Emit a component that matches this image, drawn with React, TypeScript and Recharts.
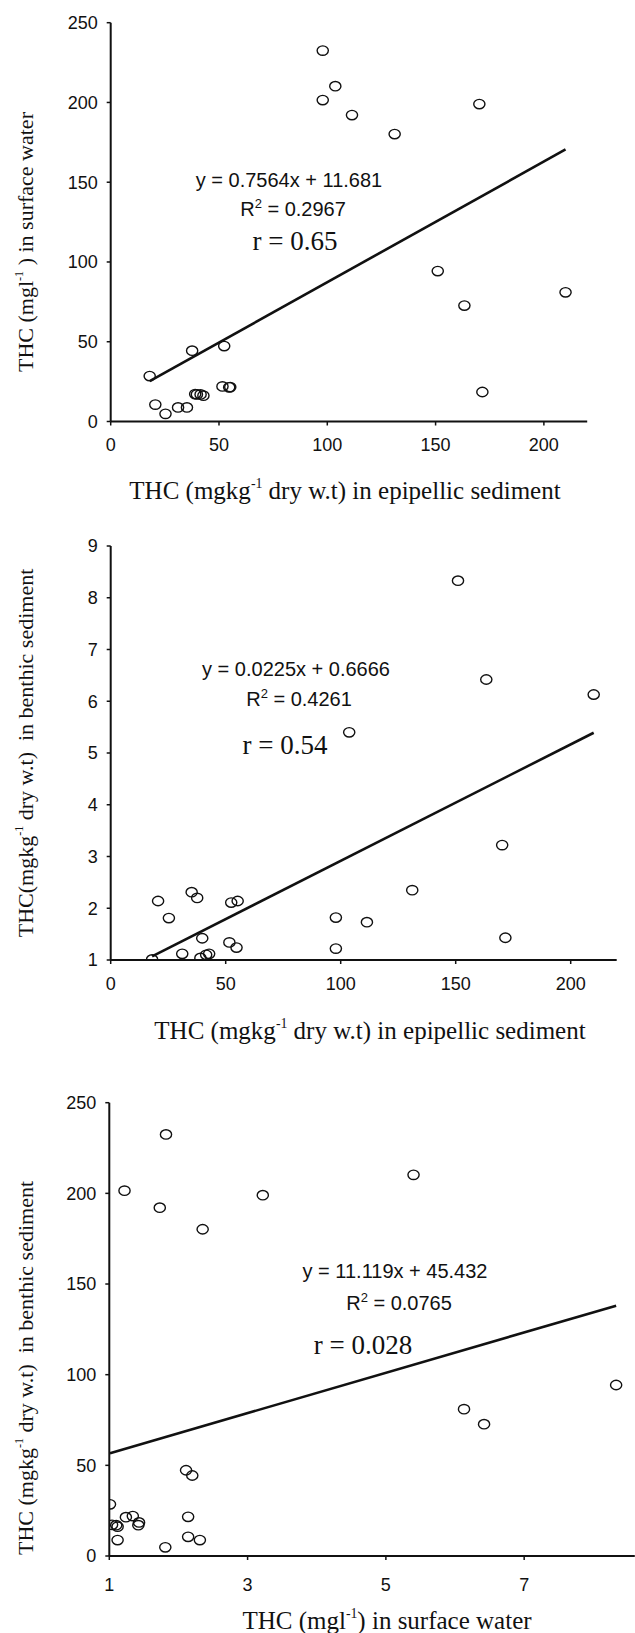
import React from 'react';
import { ScatterChart, Scatter, XAxis, YAxis, ReferenceLine } from 'recharts';

// one entry per sampling station
const epipellic = [97.9, 97.9, 103.7, 111.4, 131.1, 170.2, 151.0, 163.3, 210.0, 171.6, 18.0, 20.6, 25.3, 31.1, 35.2, 37.6, 52.4, 51.6, 54.7, 55.2, 39.8, 39.0, 41.5, 42.8];
const surfaceWater = [232.5, 201.5, 210.2, 192.1, 180.2, 199.0, 94.3, 72.7, 81.0, 18.5, 28.5, 10.6, 4.8, 8.8, 8.8, 44.4, 47.3, 22.0, 21.4, 21.6, 17.0, 17.2, 17.0, 16.2];
const benthic = [1.82, 1.22, 5.4, 1.73, 2.35, 3.22, 8.33, 6.42, 6.13, 1.43, 1.01, 2.14, 1.81, 1.12, 2.31, 2.2, 2.11, 1.34, 1.24, 2.14, 1.42, 1.04, 1.1, 1.12];

const epiTicks = [0, 50, 100, 150, 200];
const waterTicks = [0, 50, 100, 150, 200, 250];
const benthicTicks = [1, 2, 3, 4, 5, 6, 7, 8, 9];
const surfaceXTicks = [1, 3, 5, 7];

const slopes = [0.7564, 0.0225, 11.119];
const intercepts = [11.681, 0.6666, 45.432];
const rSquared = ['0.2967', '0.4261', '0.0765'];
const rValues = ['0.65', '0.54', '0.028'];

const SANS = '"Liberation Sans", Arial, sans-serif';
const SERIF = '"Liberation Serif", "Times New Roman", serif';

const pairs = (xs: number[], ys: number[]) => xs.map((x, i) => ({ x, y: ys[i] }));

const Ring = (props: any) => (
  <ellipse cx={props.cx} cy={props.cy} rx={5.6} ry={4.7} fill="none" stroke="#111" strokeWidth={1.4} />
);

const tickStyle = { fill: '#111', fontSize: 18, fontFamily: SANS };

function Panel({ top, height, plot, xDomain, yDomain, xTicks, yTicks, data, fit, xTickGap }: any) {
  const xs = data.map((d: any) => d.x);
  const x0 = Math.min(...xs);
  const x1 = Math.max(...xs);
  return (
    <div style={{ position: 'absolute', left: 0, top }}>
      <ScatterChart
        width={635}
        height={height}
        margin={{
          top: plot.top - top,
          right: 635 - plot.right,
          left: plot.left - 60,
          bottom: top + height - plot.bottom - 30,
        }}
      >
        <XAxis
          type="number"
          dataKey="x"
          domain={xDomain}
          ticks={xTicks}
          allowDataOverflow
          axisLine={{ stroke: '#111', strokeWidth: 2 }}
          tickLine={{ stroke: '#111', strokeWidth: 1.5 }}
          tickSize={4}
          tickMargin={xTickGap}
          tick={tickStyle}
          height={30}
        />
        <YAxis
          type="number"
          dataKey="y"
          domain={yDomain}
          ticks={yTicks}
          allowDataOverflow
          axisLine={{ stroke: '#111', strokeWidth: 2 }}
          tickLine={{ stroke: '#111', strokeWidth: 1.5 }}
          tickSize={4}
          tickMargin={9}
          tick={tickStyle}
          width={60}
        />
        <ReferenceLine
          segment={[
            { x: x0, y: slopes[fit] * x0 + intercepts[fit] },
            { x: x1, y: slopes[fit] * x1 + intercepts[fit] },
          ]}
          stroke="#111"
          strokeWidth={2.6}
        />
        <Scatter data={data} shape={Ring} isAnimationActive={false} />
      </ScatterChart>
    </div>
  );
}

const Note = ({ x, y, children, font, size }: any) => (
  <div
    style={{
      position: 'absolute',
      left: x,
      top: y,
      transform: 'translate(-50%, -50%)',
      whiteSpace: 'nowrap',
      fontFamily: font,
      fontSize: size,
      color: '#111',
      lineHeight: 1,
    }}
  >
    {children}
  </div>
);

const VNote = ({ x, y, children }: any) => (
  <div
    style={{
      position: 'absolute',
      left: x,
      top: y,
      transform: 'translate(-50%, -50%) rotate(-90deg)',
      whiteSpace: 'nowrap',
      fontFamily: SERIF,
      fontSize: 22,
      color: '#111',
      lineHeight: 1,
    }}
  >
    {children}
  </div>
);

const sup = (t: string) => <sup style={{ fontSize: '0.55em', verticalAlign: '0.75em' }}>{t}</sup>;
const supSans = (t: string) => <sup style={{ fontSize: '0.65em', verticalAlign: '0.6em' }}>{t}</sup>;

const Fit = ({ i, at }: any) => (
  <>
    <Note x={at[0][0]} y={at[0][1]} font={SANS} size={20}>
      y = {slopes[i]}x + {intercepts[i]}
    </Note>
    <Note x={at[1][0]} y={at[1][1]} font={SANS} size={20}>
      R{supSans('2')} = {rSquared[i]}
    </Note>
    <Note x={at[2][0]} y={at[2][1]} font={SERIF} size={27}>
      r = {rValues[i]}
    </Note>
  </>
);

export default function App() {
  return (
    <div style={{ position: 'absolute', left: 0, top: 0, width: 635, height: 1633, background: '#fff', overflow: 'hidden' }}>
      <Panel
        top={0}
        height={520}
        plot={{ top: 22.7, bottom: 421.5, left: 110.7, right: 587.2 }}
        xDomain={[0, 220]}
        yDomain={[0, 250]}
        xTicks={epiTicks}
        yTicks={waterTicks}
        data={pairs(epipellic, surfaceWater)}
        fit={0}
        xTickGap={13}
      />
      <Fit i={0} at={[[289, 180], [293, 208], [295, 241]]} />
      <Note x={345} y={490} font={SERIF} size={25}>
        THC (mgkg{sup('-1')} dry w.t) in epipellic sediment
      </Note>
      <VNote x={25} y={242}>
        THC (mgl{sup('-1')} ) in surface water
      </VNote>

      <Panel
        top={520}
        height={540}
        plot={{ top: 546, bottom: 960, left: 110.7, right: 616.7 }}
        xDomain={[0, 220]}
        yDomain={[1, 9]}
        xTicks={epiTicks}
        yTicks={benthicTicks}
        data={pairs(epipellic, benthic)}
        fit={1}
        xTickGap={13}
      />
      <Fit i={1} at={[[296, 669], [299, 698], [285, 745]]} />
      <Note x={370} y={1030} font={SERIF} size={25}>
        THC (mgkg{sup('-1')} dry w.t) in epipellic sediment
      </Note>
      <VNote x={25} y={753}>
        THC(mgkg{sup('-1')} dry w.t)&nbsp; in benthic sediment
      </VNote>

      <Panel
        top={1060}
        height={573}
        plot={{ top: 1102.7, bottom: 1556, left: 109.3, right: 634.8 }}
        xDomain={[1, 8.6]}
        yDomain={[0, 250]}
        xTicks={surfaceXTicks}
        yTicks={waterTicks}
        data={pairs(benthic, surfaceWater)}
        fit={2}
        xTickGap={18}
      />
      <Fit i={2} at={[[395, 1271], [399, 1302], [363, 1345]]} />
      <Note x={387} y={1620} font={SERIF} size={25}>
        THC (mgl{sup('-1')}) in surface water
      </Note>
      <VNote x={25} y={1368}>
        THC (mgkg{sup('-1')} dry w.t)&nbsp; in benthic sediment
      </VNote>
    </div>
  );
}
